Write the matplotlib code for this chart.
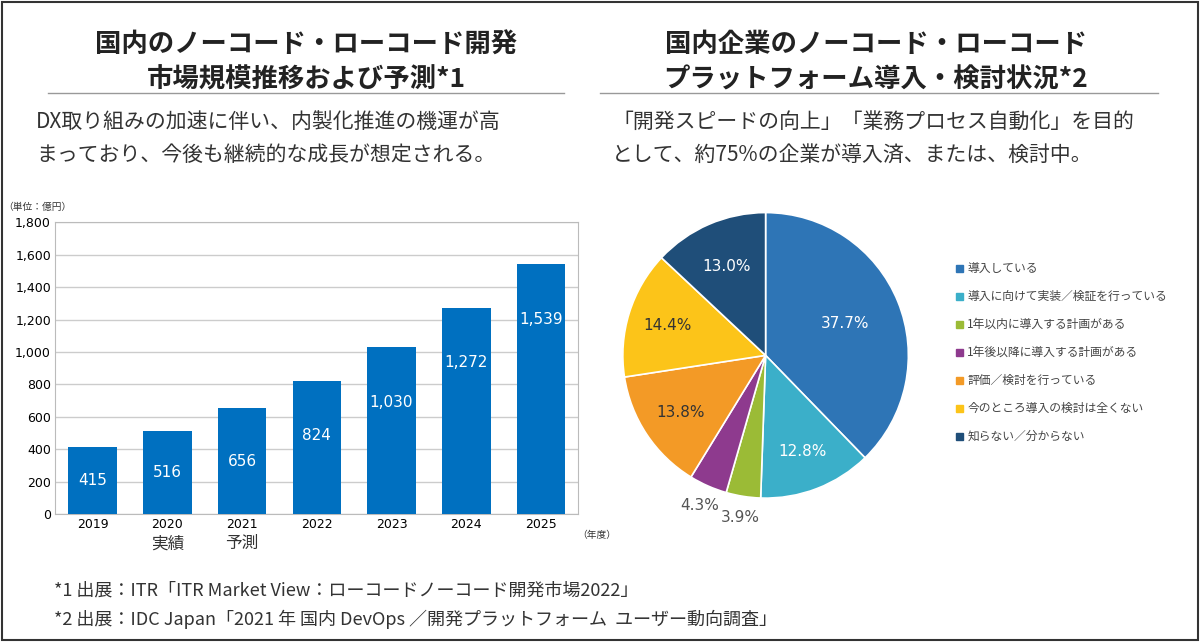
import matplotlib
matplotlib.use("Agg")
import matplotlib.pyplot as plt
from matplotlib.patches import Rectangle
from matplotlib.lines import Line2D

plt.rcParams['font.family'] = ['Noto Sans CJK JP', 'DejaVu Sans']

years = ['2019', '2020', '2021', '2022', '2023', '2024', '2025']
market = [415, 516, 656, 824, 1030, 1272, 1539]
value_labels = ['415', '516', '656', '824', '1,030', '1,272', '1,539']

pie_labels = ['導入している', '導入に向けて実装／検証を行っている', '1年以内に導入する計画がある',
              '1年後以降に導入する計画がある', '評価／検討を行っている',
              '今のところ導入の検討は全くない', '知らない／分からない']
pie_values = [37.7, 12.8, 3.9, 4.3, 13.8, 14.4, 13.0]
pie_colors = ['#2e75b6', '#3bafc9', '#9bbb36', '#8e3a8e', '#f39a26', '#fcc419', '#1f4e79']

fig = plt.figure(figsize=(12, 6.42), dpi=100)
fig.patches.append(Rectangle((0.002, 0.003), 0.996, 0.994, transform=fig.transFigure,
                             fill=False, edgecolor='#333333', lw=1.5))

# titles
fig.text(0.255, 0.93, '国内のノーコード・ローコード開発', ha='center', va='center', fontsize=19, fontweight='bold', color='#222')
fig.text(0.255, 0.875, '市場規模推移および予測*1', ha='center', va='center', fontsize=19, fontweight='bold', color='#222')
fig.text(0.73, 0.93, '国内企業のノーコード・ローコード', ha='center', va='center', fontsize=19, fontweight='bold', color='#222')
fig.text(0.73, 0.875, 'プラットフォーム導入・検討状況*2', ha='center', va='center', fontsize=19, fontweight='bold', color='#222')
fig.lines.append(Line2D([0.04, 0.47], [0.855, 0.855], transform=fig.transFigure, color='#999', lw=1))
fig.lines.append(Line2D([0.5, 0.965], [0.855, 0.855], transform=fig.transFigure, color='#999', lw=1))
fig.text(0.03, 0.81, 'DX取り組みの加速に伴い、内製化推進の機運が高', fontsize=15, va='center', color='#333')
fig.text(0.03, 0.758, 'まっており、今後も継続的な成長が想定される。', fontsize=15, va='center', color='#333')
fig.text(0.51, 0.81, '「開発スピードの向上」「業務プロセス自動化」を目的', fontsize=15, va='center', color='#333')
fig.text(0.51, 0.758, 'として、約75%の企業が導入済、または、検討中。', fontsize=15, va='center', color='#333')

# bar chart
ax = fig.add_axes([0.046, 0.199, 0.436, 0.455])
x = range(len(years))
ax.bar(x, market, width=0.65, color='#0070c0', zorder=3)
for i, (v, t) in enumerate(zip(market, value_labels)):
    ax.text(i, v / 2 if v < 700 else v - 340 + (0 if i < 4 else 0), t, ha='center', va='center',
            color='white', fontsize=11, family='DejaVu Sans', zorder=4)
ax.set_ylim(0, 1800)
ax.set_xlim(-0.5, 6.5)
ax.set_yticks(range(0, 1801, 200))
ax.set_yticklabels([f'{v:,}' for v in range(0, 1801, 200)], fontsize=9, family='DejaVu Sans')
ax.set_xticks(list(x))
ax.set_xticklabels(years, fontsize=9, family='DejaVu Sans')
ax.tick_params(length=0, pad=3)
ax.grid(axis='y', color='#cccccc', lw=1, zorder=0)
for s in ax.spines.values():
    s.set_color('#bbbbbb')
ax.text(-0.1, 1.035, '（単位：億円）', transform=ax.transAxes, fontsize=7, ha='left', va='bottom', color='#333')
ax.text(6.75, -95, '（年度）', fontsize=7, ha='center', va='top', color='#333')
ax.text(1, -130, '実績', fontsize=12, ha='center', va='top', color='#333')
ax.text(2, -130, '予測', fontsize=12, ha='center', va='top', color='#333')

# pie
pax = fig.add_axes([0.513, 0.213, 0.25, 0.467])
wedges, _ = pax.pie(pie_values, colors=pie_colors, startangle=90, counterclock=False,
                    wedgeprops=dict(edgecolor='white', linewidth=1.2))
import numpy as np
ang = 90.0
txtcol = ['white', 'white', '#555', '#555', '#333', '#333', 'white']
radii = [0.6, 0.72, 1.15, 1.15, 0.72, 0.72, 0.68]
for v, c, r in zip(pie_values, txtcol, radii):
    mid = np.deg2rad(ang - v * 3.6 / 2)
    pax.text(r * np.cos(mid), r * np.sin(mid), f'{v}%', ha='center', va='center',
             fontsize=11, color=c, family='DejaVu Sans')
    ang -= v * 3.6
pax.set_xlim(-1.05, 1.05); pax.set_ylim(-1.05, 1.05)
pax.set_aspect('equal')

# legend
for i, (lab, col) in enumerate(zip(pie_labels, pie_colors)):
    y = 0.582 - i * 0.0435
    fig.patches.append(Rectangle((0.797, y - 0.006), 0.0055, 0.011, transform=fig.transFigure,
                                 color=col))
    fig.text(0.806, y, lab, fontsize=8.5, va='center', color='#444')

# footnotes
fig.text(0.045, 0.08, '*1 出展：ITR「ITR Market View：ローコードノーコード開発市場2022」', fontsize=13, va='center', color='#333')
fig.text(0.045, 0.035, '*2 出展：IDC Japan「2021 年 国内 DevOps ／開発プラットフォーム  ユーザー動向調査」', fontsize=13, va='center', color='#333')

fig.savefig('out.png', dpi=100)
